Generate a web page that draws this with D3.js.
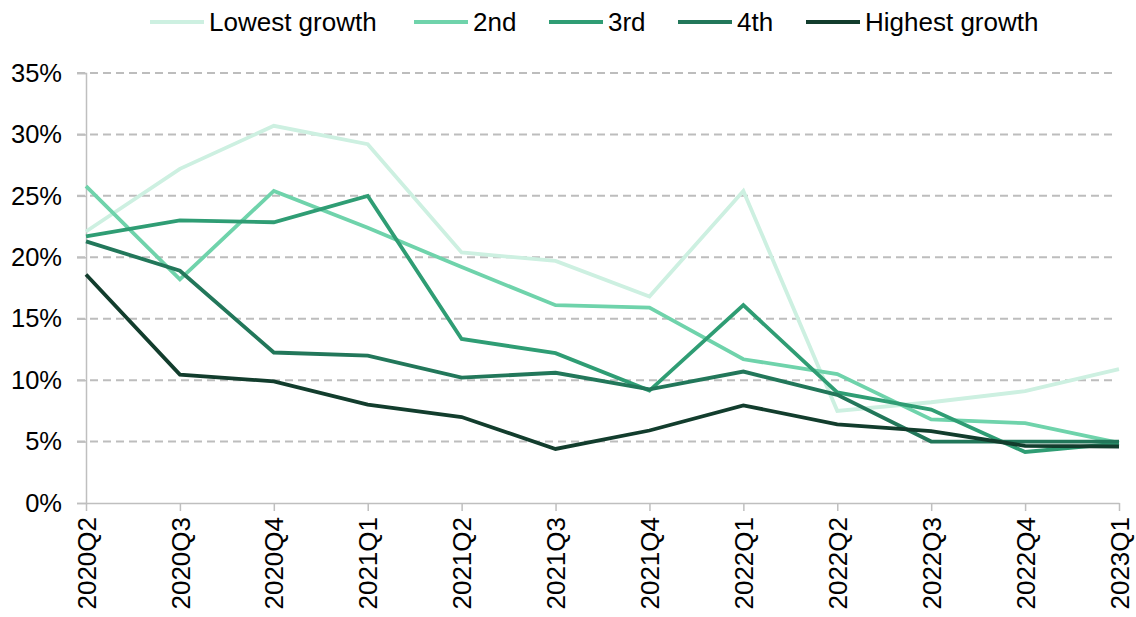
<!DOCTYPE html>
<meta charset="utf-8">
<style>
  body { margin: 0; background: #fff; }
  text { font-family: "Liberation Sans", Arial, sans-serif; fill: #000; }
</style>

<!-- Load d3.js -->
<script src="https://d3js.org/d3.v7.min.js"></script>

<div id="my_dataviz"></div>

<script>

// data (percent)
var quarters = ["2020Q2", "2020Q3", "2020Q4", "2021Q1", "2021Q2", "2021Q3",
                "2021Q4", "2022Q1", "2022Q2", "2022Q3", "2022Q4", "2023Q1"];
var seriesNames = ["Lowest growth", "2nd", "3rd", "4th", "Highest growth"];
var lowest  = [22.1, 27.2, 30.7, 29.2, 20.4, 19.7, 16.8, 25.4, 7.5, 8.2, 9.1, 10.9];
var second  = [25.8, 18.2, 25.4, 22.4, 19.2, 16.1, 15.9, 11.7, 10.5, 6.8, 6.5, 4.9];
var third   = [21.7, 23.0, 22.85, 25.0, 13.35, 12.2, 9.15, 16.1, 9.0, 7.6, 4.15, 4.85];
var fourth  = [21.3, 18.9, 12.25, 12.0, 10.2, 10.6, 9.25, 10.7, 8.8, 5.0, 5.0, 5.0];
var highest = [18.6, 10.45, 9.9, 8.0, 7.0, 4.4, 5.9, 7.95, 6.4, 5.85, 4.65, 4.6];
var yTicks = [0, 5, 10, 15, 20, 25, 30, 35];

var colors = ["#cdf0e1", "#6fd3ab", "#2f9d74", "#22775a", "#123d2d"];
var allSeries = [lowest, second, third, fourth, highest];

// set the dimensions and margins of the graph
var margin = {top: 73, right: 17, bottom: 114, left: 86},
    width = 1136 - margin.left - margin.right,
    height = 617 - margin.top - margin.bottom;

var root = d3.select("#my_dataviz")
  .append("svg")
    .attr("width", 1136)
    .attr("height", 617);

var svg = root.append("g")
    .attr("transform", "translate(" + margin.left + "," + margin.top + ")");

var x = d3.scalePoint()
  .domain(quarters)
  .range([0, width]);

var y = d3.scaleLinear()
  .domain([0, 35])
  .range([height, 0]);

// dashed gridlines
svg.append("g")
  .selectAll("line")
  .data(yTicks.filter(function(d) { return d > 0; }))
  .enter().append("line")
    .attr("x1", -9)
    .attr("x2", width - 2)
    .attr("y1", function(d) { return y(d); })
    .attr("y2", function(d) { return y(d); })
    .attr("stroke", "#bdbdbd")
    .attr("stroke-width", 2)
    .attr("stroke-dasharray", "8,5");

// Y axis
var yAxis = svg.append("g")
  .call(d3.axisLeft(y)
    .tickValues(yTicks)
    .tickSize(9)
    .tickPadding(15)
    .tickFormat(function(d) { return d + "%"; }));
yAxis.selectAll("line, path").attr("stroke", "#bfbfbf").attr("stroke-width", 1.5);
yAxis.selectAll("text")
  .style("font-size", "25.5px")
  .style("font-family", "'Liberation Sans', Arial, sans-serif")
  .attr("fill", "#000");

// X axis
var xAxis = svg.append("g")
  .attr("transform", "translate(0," + height + ")")
  .call(d3.axisBottom(x).tickSize(8).tickSizeOuter(0));
xAxis.select("path").attr("stroke", "#bfbfbf").attr("stroke-width", 1.5);
xAxis.selectAll("line").attr("stroke", "#bfbfbf").attr("stroke-width", 1.5);
xAxis.selectAll("text")
  .style("font-size", "26px")
  .style("font-family", "'Liberation Sans', Arial, sans-serif")
  .attr("fill", "#000")
  .attr("text-anchor", "end")
  .attr("transform", "rotate(-90)")
  .attr("x", -14)
  .attr("y", 0)
  .attr("dy", "0.35em");

// the lines
var line = d3.line()
  .x(function(d, i) { return x(quarters[i]); })
  .y(function(d) { return y(d); });

allSeries.forEach(function(s, k) {
  svg.append("path")
    .datum(s)
    .attr("fill", "none")
    .attr("stroke", colors[k])
    .attr("stroke-width", 3.8)
    .attr("stroke-linejoin", "miter")
    .attr("d", line);
});

// legend
var legendX = [150, 414, 549, 678, 806];
var legend = root.append("g");
seriesNames.forEach(function(name, k) {
  legend.append("line")
    .attr("x1", legendX[k])
    .attr("x2", legendX[k] + 54)
    .attr("y1", 22)
    .attr("y2", 22)
    .attr("stroke", colors[k])
    .attr("stroke-width", 4);
  legend.append("text")
    .attr("x", legendX[k] + 59)
    .attr("y", 22)
    .attr("dy", "0.35em")
    .style("font-size", "26px")
    .text(name);
});

</script>
